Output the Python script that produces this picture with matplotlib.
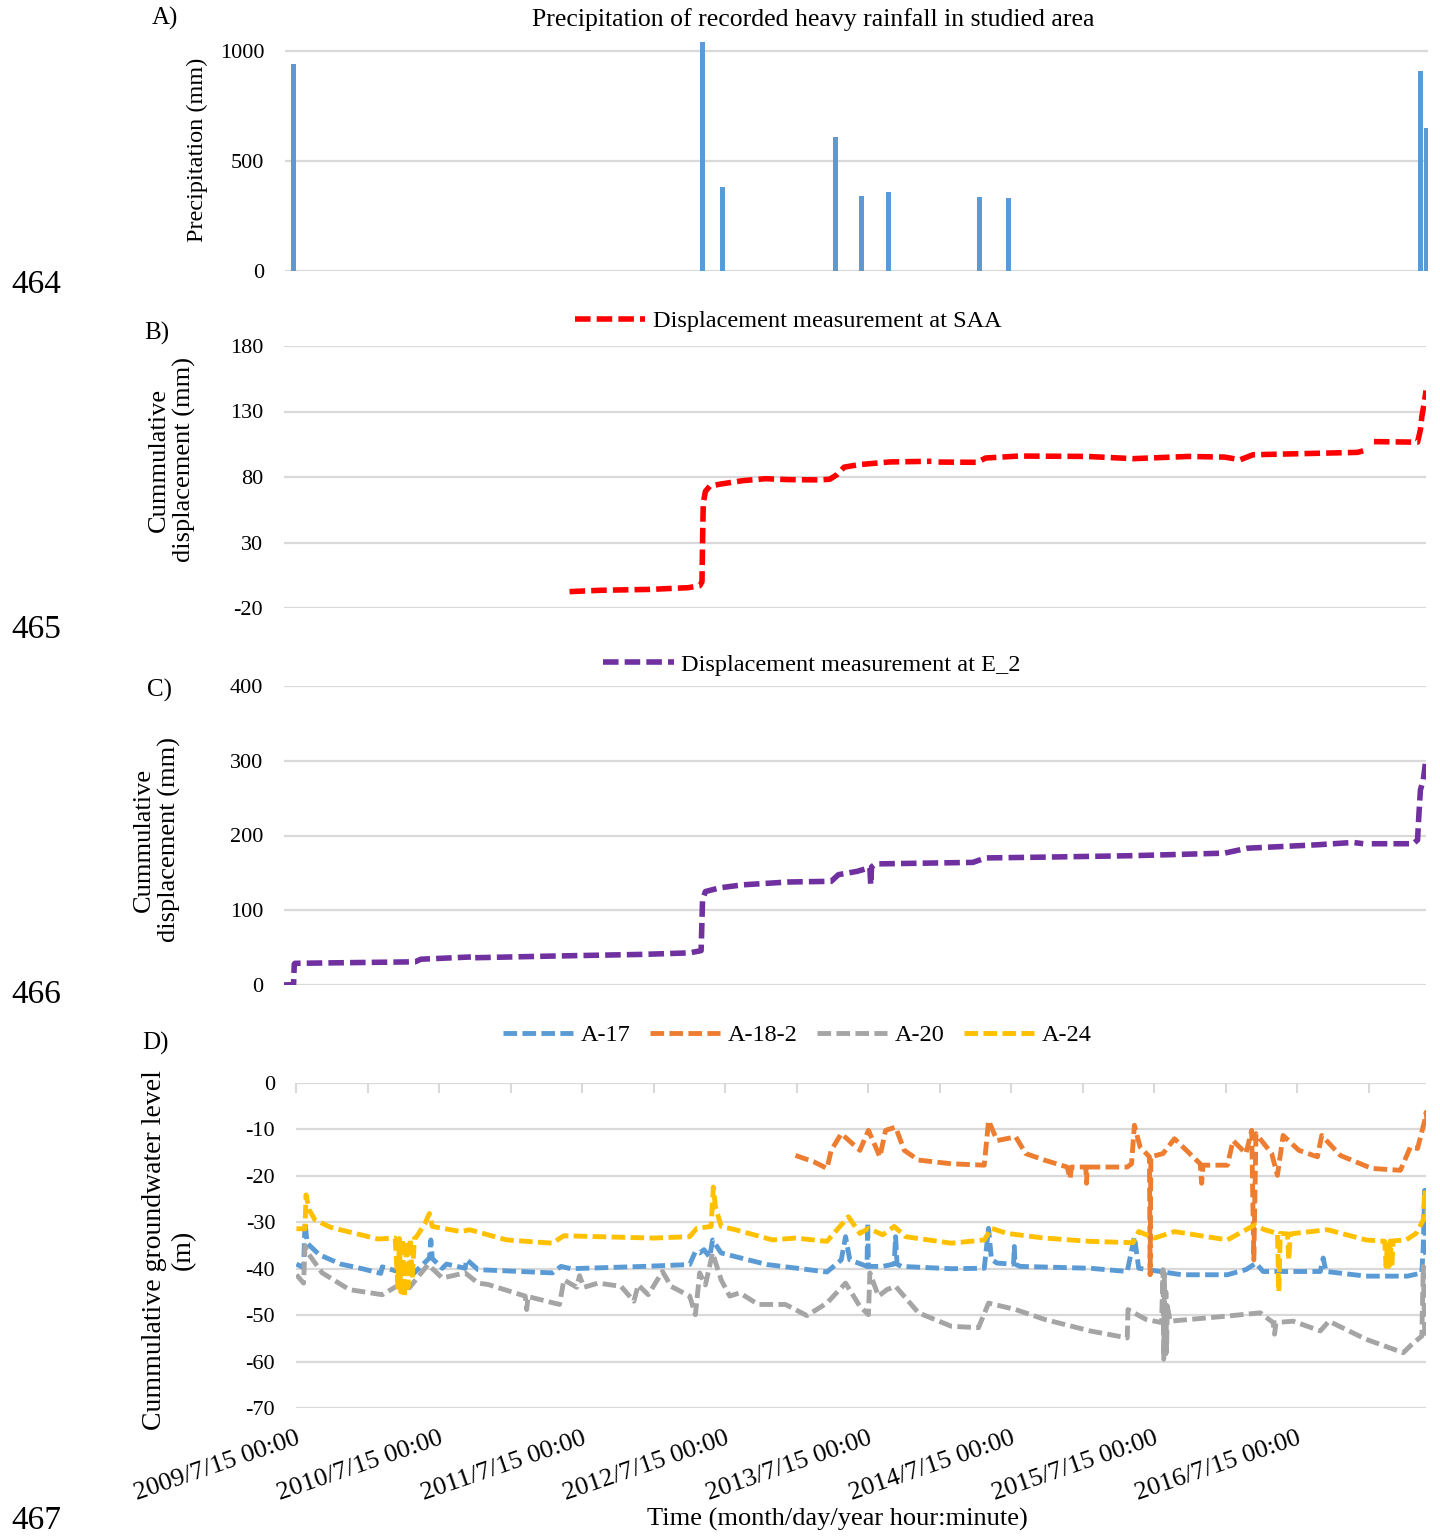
import numpy as np
import matplotlib.pyplot as plt

plt.rcParams['font.family'] = ['Liberation Serif', 'DejaVu Serif']
plt.rcParams['axes.unicode_minus'] = False

# ---- data (time as decimal year, 2009.537 = 2009/7/15 00:00) ----
rain_t = [2009.52, 2012.38, 2012.52, 2013.31, 2013.49, 2013.68, 2014.32, 2014.52, 2017.40, 2017.44]
rain_mm = [942, 1040, 381, 609, 340, 359, 337, 331, 909, 650]

saa_t = [2011.45, 2011.66, 2012.01, 2012.28, 2012.36, 2012.376, 2012.38, 2012.385, 2012.40, 2012.43,
         2012.50, 2012.66, 2012.82, 2012.98, 2013.20, 2013.27, 2013.32, 2013.37, 2013.47, 2013.69,
         2013.98, np.nan, 2014.03, 2014.30, 2014.36, 2014.59, 2015.07, 2015.39, 2015.78, 2016.03,
         2016.14, 2016.23, 2016.52, 2016.96, 2017.00, 2017.03, np.nan, 2017.075, 2017.38, 2017.40,
         2017.41, 2017.43, 2017.439]
saa_mm = [-7.5, -6.5, -5.8, -4.5, -3, 0, 30, 60, 69, 73,
          74.5, 77.2, 78.7, 78, 77.8, 78.3, 81.8, 87.5, 89.4, 91.5,
          92, np.nan, 91.4, 91.2, 94.5, 96, 95.7, 94, 95.7, 95.2,
          93.2, 97, 97.7, 98.8, 100, 103, np.nan, 107, 106.6, 116,
          126, 138.7, 146]

e2_t = [2009.45, 2009.52, 2009.525, 2009.53, 2010.37, 2010.41, 2010.76, np.nan, 2010.79, 2011.33,
        2011.97, 2012.29, 2012.37, 2012.375, 2012.38, 2012.40, 2012.50, 2012.66, 2012.98, 2013.28,
        2013.33, 2013.46, 2013.55, 2013.556, 2013.562, 2013.59, 2014.27, 2014.36, 2014.75, 2015.39,
        2016.03, 2016.19, 2016.68, 2016.93, 2017.00, np.nan, 2017.06, 2017.35, 2017.38, 2017.39,
        2017.40, 2017.42, 2017.439]
e2_mm = [0, 0.5, 28, 29, 31, 34.5, 37.5, np.nan, 36.5, 38.7,
         41, 43, 46, 80, 114, 125, 130, 134, 137.8, 138.7,
         147.6, 152, 157, 134, 158, 162, 164, 170, 171, 173,
         176.4, 183, 187.6, 190.7, 189, np.nan, 189, 189, 194, 230,
         261, 274, 303]

a17_t = [2009.54, 2009.59, 2009.60, 2009.615, 2009.70, 2009.85, 2010.00, 2010.13, 2010.14, 2010.27,
         2010.36, 2010.47, 2010.48, 2010.49, 2010.56, 2010.59, 2010.72, 2010.73, 2010.81, 2011.33,
         2011.39, 2011.46, 2011.97, 2012.29, 2012.33, 2012.36, 2012.39, 2012.43, 2012.45, 2012.51,
         2012.61, 2012.83, 2013.25, 2013.35, 2013.38, 2013.41, 2013.53, 2013.535, 2013.54, 2013.64,
         2013.72, 2013.73, 2013.74, 2013.77, 2014.12, 2014.35, 2014.38, 2014.40, 2014.44, 2014.555,
         2014.56, 2014.565, 2014.60, 2015.09, 2015.35, 2015.40, 2015.43, 2015.73, 2016.05, 2016.18,
         2016.25, 2016.30, 2016.70, 2016.72, 2016.74, 2017.02, 2017.31, 2017.41, 2017.42, 2017.43,
         2017.435, 2017.45]
a17_m = [-39, -39.8, -30, -34.5, -37, -39, -40, -41, -39.6, -40.8,
         -41, -37.7, -33.8, -37.8, -39.9, -39, -39.9, -38, -40.2, -40.9,
         -39.5, -40, -39.5, -39.1, -36.3, -36.6, -35.9, -37.5, -33.8, -36.6,
         -37.4, -39.1, -40.7, -38.1, -33.1, -38.1, -39.5, -30.2, -39.5, -39.5,
         -39, -33.1, -39, -39.5, -40, -39.9, -31.3, -38, -38.8, -39,
         -35.2, -39, -39.5, -39.9, -40.6, -33.1, -39.9, -41.3, -41.3, -40.2,
         -38.8, -40.6, -40.6, -37.7, -40.6, -41.6, -41.6, -40.9, -35.2, -23.1,
         -36.6, -38]

a182_t = [2013.03, 2013.16, 2013.25, 2013.28, 2013.35, 2013.48, 2013.54, 2013.62, 2013.66, 2013.73,
          2013.79, 2013.89, 2014.12, 2014.35, 2014.38, 2014.44, 2014.57, 2014.64, 2014.77, 2014.93,
          2014.95, 2014.96, 2015.06, 2015.065, 2015.07, 2015.35, 2015.38, 2015.40, 2015.44, 2015.505,
          2015.51, 2015.515, 2015.60, 2015.68, 2015.86, 2015.87, 2015.88, 2016.05, 2016.09, 2016.18,
          2016.22, 2016.235, 2016.25, 2016.36, 2016.40, 2016.44, 2016.55, 2016.68, 2016.71, 2016.84,
          2017.06, 2017.26, 2017.33, 2017.38, 2017.43, 2017.44, 2017.45]
a182_m = [-15.6, -17, -18.4, -14.5, -10.9, -14.5, -10.2, -15.9, -10.2, -9.5,
          -14.5, -16.6, -17.4, -17.7, -8.1, -12.4, -11.6, -15.2, -16.6, -18.1,
          -20.6, -18.1, -18.1, -21.6, -18.1, -18.1, -17.4, -9.1, -13.8, -15.9,
          -41.3, -15.9, -15.2, -12, -17.4, -21.6, -17.7, -17.7, -12.4, -15.2,
          -10.2, -38.1, -10.9, -15.2, -19.9, -11.3, -14.5, -15.9, -11.3, -15.6,
          -18.4, -18.8, -13.8, -14.1, -8.1, -6.3, -9.5]

a20_t = [2009.54, 2009.59, 2009.60, 2009.62, 2009.72, 2009.91, 2010.14, 2010.24, 2010.33, 2010.46,
         2010.56, 2010.72, 2010.81, 2010.88, 2011.14, 2011.15, 2011.16, 2011.38, 2011.41, 2011.50,
         2011.52, 2011.55, 2011.65, 2011.81, 2011.90, 2011.93, 2012.00, 2012.10, 2012.16, 2012.29,
         2012.33, 2012.36, 2012.40, 2012.45, 2012.51, 2012.57, 2012.64, 2012.77, 2012.96, 2013.11,
         2013.25, 2013.38, 2013.48, 2013.54, 2013.55, 2013.61, 2013.67, 2013.73, 2013.89, 2014.12,
         2014.31, 2014.38, 2014.57, 2014.77, 2015.09, 2015.35, 2015.355, 2015.48, 2015.59, 2015.60,
         2015.605, 2015.61, 2015.615, 2015.62, 2015.625, 2015.63, 2015.65, 2016.05, 2016.28, 2016.37,
         2016.38, 2016.39, 2016.51, 2016.70, 2016.76, 2017.02, 2017.28, 2017.34, 2017.41, 2017.42,
         2017.43, 2017.45]
a20_m = [-41.3, -43.1, -35.2, -36.6, -40.9, -44.5, -45.6, -43.8, -44.1, -39.1,
         -42, -40.9, -43.1, -43.4, -45.9, -48.8, -46, -47.7, -42.4, -44,
         -41.5, -44, -43.1, -43.8, -47, -43.5, -45.6, -40.6, -43.8, -45.9,
         -49.9, -40.9, -43.5, -36.6, -42.4, -45.9, -45.2, -47.7, -47.7, -50.1,
         -47.4, -43.1, -48.1, -49.9, -40.9, -45.9, -44.5, -43.8, -49.5, -52.4,
         -52.7, -47.4, -48.8, -50.9, -53.4, -54.9, -48.8, -50.9, -51.6, -40.2,
         -59.5, -41, -59, -45, -58, -48, -51.3, -50.2, -49.5, -51.6,
         -54.1, -51.6, -51.3, -53.4, -51.3, -55.2, -58.1, -56.3, -54.5, -39.5,
         -53.8, -54.1]

a24_t = [2009.54, 2009.60, 2009.607, 2009.63, 2009.67, 2009.78, 2010.11, 2010.23, 2010.25, 2010.26,
         2010.27, 2010.28, 2010.295, 2010.31, 2010.32, 2010.335, 2010.35, 2010.365, 2010.38, 2010.44,
         2010.47, 2010.49, 2010.69, 2010.75, 2011.01, 2011.33, 2011.41, 2011.65, 2012.04, 2012.29,
         2012.34, 2012.44, 2012.455, 2012.47, 2012.51, 2012.61, 2012.87, 2013.03, 2013.25, 2013.40,
         2013.48, 2013.54, 2013.64, 2013.72, 2013.80, 2014.12, 2014.35, 2014.40, 2014.51, 2014.77,
         2015.09, 2015.39, 2015.43, 2015.54, 2015.68, 2016.05, 2016.24, 2016.31, 2016.40, 2016.41,
         2016.42, 2016.47, 2016.48, 2016.49, 2016.75, 2017.02, 2017.15, 2017.16, 2017.17, 2017.18,
         2017.19, 2017.20, 2017.21, 2017.30, 2017.37, 2017.42, 2017.43, 2017.44, 2017.45]
a24_m = [-31.4, -31.4, -24.1, -27.4, -29.5, -31.1, -33.6, -33.4, -44, -33.5,
         -45, -33.5, -46, -34, -44, -33.5, -42, -33.5, -33.1, -30.2,
         -28.1, -30.9, -32, -31.6, -33.8, -34.5, -32.9, -33.1, -33.4, -33.1,
         -31.3, -30.9, -22.4, -26.6, -30.9, -31.6, -33.8, -33.4, -34.1, -28.8,
         -32.4, -31.3, -32.7, -30.9, -33.1, -34.5, -33.8, -31.3, -32.4, -33.4,
         -34.1, -34.4, -32, -33.4, -32, -33.8, -30.6, -31.6, -32.4, -44.9,
         -32.4, -32.5, -38.1, -32.5, -31.6, -33.8, -34.1, -39.5, -34, -39.5,
         -34, -39.5, -34, -33.8, -32.4, -29.5, -23.1, -25.6, -28.8]

year_ticks = [2009.537 + k for k in range(8)]
year_half_ticks = [2010.037 + k for k in range(8)]
year_labels = [f"{2009 + k}/7/15 00:00" for k in range(8)]

# ---- layout helpers (pixels of the 1440x1537 picture) ----
W, H = 1440, 1537
T0, PPY = 2009.537, 143.0
GRID = '#d9d9d9'
DASH = (2.8, 1.1)

def year_at(px):
    return T0 + (px - 296) / PPY

def fx(px):
    return px / W

def fy(py):
    return 1 - py / H

fig = plt.figure(figsize=(14.4, 15.37), dpi=100)

def make_axes(left, top, right, bottom):
    ax = fig.add_axes([fx(left), fy(bottom), (right - left) / W, (bottom - top) / H])
    ax.set_xlim(year_at(left), year_at(right))
    for s in ax.spines.values():
        s.set_visible(False)
    ax.grid(axis='y', color=GRID, lw=1.6)
    ax.set_axisbelow(True)
    ax.tick_params(axis='y', length=0, labelsize=16, pad=15)
    ax.tick_params(axis='x', bottom=False, labelbottom=False)
    return ax

def ylabel(ax, text, px, py, size=19):
    ax.set_ylabel(text, fontsize=size, va='center', ha='center', multialignment='center')
    ax.yaxis.set_label_coords(fx(px), fy(py), transform=fig.transFigure)

# A) precipitation
axA = make_axes(285, 40, 1428, 271)
axA.bar(rain_t, rain_mm, width=0.035, color='#5B9BD5')
axA.set_ylim(0, 1050)
axA.set_yticks([0, 500, 1000])
axA.set_title('Precipitation of recorded heavy rainfall in studied area', fontsize=18.5,
              x=(813 - 285) / 1143, y=1.0, pad=10)
ylabel(axA, 'Precipitation (mm)', 197, 150, size=17.5)

# B) SAA
axB = make_axes(284, 346, 1426, 608)
axB.plot(saa_t, saa_mm, color='#FF0000', lw=4, dashes=DASH,
         label='Displacement measurement at SAA')
axB.set_ylim(-20, 180)
axB.set_yticks([-20, 30, 80, 130, 180])
ylabel(axB, 'Cummulative\ndisplacement (mm)', 172, 460)
axB.legend(loc='center', bbox_to_anchor=(fx(788), fy(321)), bbox_transform=fig.transFigure,
           frameon=False, fontsize=17.5, handlelength=2.9, handletextpad=0.3)

# C) E_2
axC = make_axes(284, 686, 1426, 985)
axC.plot(e2_t, e2_mm, color='#7030A0', lw=4, dashes=DASH,
         label='Displacement measurement at E_2')
axC.set_ylim(0, 400)
axC.set_yticks([0, 100, 200, 300, 400])
ylabel(axC, 'Cummulative\ndisplacement (mm)', 157, 840)
axC.legend(loc='center', bbox_to_anchor=(fx(812), fy(665)), bbox_transform=fig.transFigure,
           frameon=False, fontsize=17.5, handlelength=2.9, handletextpad=0.3)

# D) groundwater
axD = make_axes(296, 1083, 1426, 1408)
for t, m, c, name in [(a17_t, a17_m, '#5B9BD5', 'A-17'),
                      (a182_t, a182_m, '#ED7D31', 'A-18-2'),
                      (a20_t, a20_m, '#A5A5A5', 'A-20'),
                      (a24_t, a24_m, '#FFC000', 'A-24')]:
    axD.plot(t, m, color=c, lw=3.5, dashes=DASH, label=name)
axD.set_ylim(-70, 0)
axD.set_yticks(range(-70, 1, 10))
axD.set_xticks(year_ticks)
axD.set_xticklabels(year_labels, rotation=19, ha='right', rotation_mode='anchor', fontsize=19)
axD.set_xticks(year_half_ticks, minor=True)
axD.tick_params(axis='x', which='both', bottom=False, top=True, direction='in',
                length=7, width=1.5, color=GRID, labelbottom=True, labeltop=False, pad=14)
axD.set_xlabel('Time (month/day/year hour:minute)', fontsize=19, va='center')
axD.xaxis.set_label_coords(fx(837), fy(1519), transform=fig.transFigure)
ylabel(axD, 'Cummulative groundwater level\n(m)', 169, 1250, size=20)
axD.legend(loc='center', bbox_to_anchor=(fx(797), fy(1035)), bbox_transform=fig.transFigure,
           ncol=4, frameon=False, fontsize=17.5, handlelength=2.9, handletextpad=0.3,
           columnspacing=0.8)

# panel letters and manuscript line numbers
for s, x, y in [('A)', 165, 18), ('B)', 157, 333), ('C)', 160, 690), ('D)', 155, 1043)]:
    fig.text(fx(x), fy(y), s, fontsize=18, ha='center', va='center')
for s, y in [('464', 285), ('465', 630), ('466', 995), ('467', 1521)]:
    fig.text(fx(36), fy(y), s, fontsize=24, ha='center', va='center')

fig.savefig('out.png', dpi=100)
